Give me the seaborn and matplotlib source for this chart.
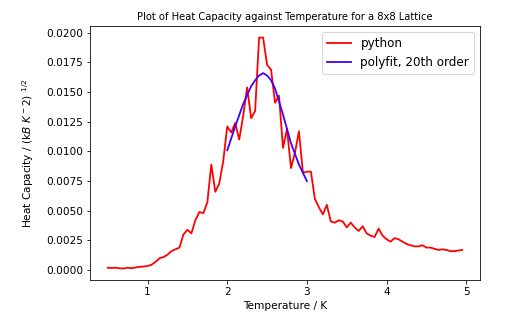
import numpy as np
import pandas as pd
import matplotlib
matplotlib.use('Agg')
import matplotlib.pyplot as plt
import seaborn as sns

# heat capacity from the simulation
temps = [0.50, 0.55, 0.60, 0.65, 0.70, 0.75, 0.80, 0.85, 0.90, 0.95,
         1.00, 1.05, 1.10, 1.15, 1.20, 1.25, 1.30, 1.35, 1.40, 1.45,
         1.50, 1.55, 1.60, 1.65, 1.70, 1.75, 1.80, 1.85, 1.90, 1.95,
         2.00, 2.05, 2.10, 2.15, 2.20, 2.25, 2.30, 2.35, 2.40, 2.45,
         2.50, 2.55, 2.60, 2.65, 2.70, 2.75, 2.80, 2.85, 2.90, 2.95,
         3.00, 3.05, 3.10, 3.15, 3.20, 3.25, 3.30, 3.35, 3.40, 3.45,
         3.50, 3.55, 3.60, 3.65, 3.70, 3.75, 3.80, 3.85, 3.90, 3.95,
         4.00, 4.05, 4.10, 4.15, 4.20, 4.25, 4.30, 4.35, 4.40, 4.45,
         4.50, 4.55, 4.60, 4.65, 4.70, 4.75, 4.80, 4.85, 4.90, 4.95]
heat_cap = [0.00020, 0.00018, 0.00020, 0.00015, 0.00014, 0.00020, 0.00016, 0.00022, 0.00028, 0.00030,
            0.00035, 0.00045, 0.00070, 0.00100, 0.00110, 0.00130, 0.00160, 0.00175, 0.00190, 0.00300,
            0.00340, 0.00310, 0.00420, 0.00490, 0.00480, 0.00570, 0.00890, 0.00660, 0.00730, 0.00920,
            0.01210, 0.01160, 0.01240, 0.01100, 0.01300, 0.01540, 0.01280, 0.01340, 0.01960, 0.01960,
            0.01730, 0.01690, 0.01410, 0.01470, 0.01030, 0.01190, 0.00860, 0.00990, 0.01170, 0.00820,
            0.00830, 0.00830, 0.00600, 0.00530, 0.00470, 0.00550, 0.00410, 0.00400, 0.00420, 0.00410,
            0.00360, 0.00400, 0.00360, 0.00330, 0.00370, 0.00310, 0.00290, 0.00280, 0.00350, 0.00290,
            0.00260, 0.00240, 0.00270, 0.00260, 0.00240, 0.00220, 0.00210, 0.00200, 0.00200, 0.00210,
            0.00190, 0.00190, 0.00180, 0.00170, 0.00175, 0.00170, 0.00160, 0.00160, 0.00165, 0.00170]

# polyfit curve
fit_temps = [2.0, 2.1, 2.2, 2.3, 2.35, 2.4, 2.45, 2.5, 2.55, 2.6, 2.7, 2.8, 2.9, 3.0]
fit_cap = [0.0101, 0.0121, 0.0140, 0.0155, 0.0160, 0.0164, 0.0166, 0.0164, 0.0160, 0.0153,
           0.0131, 0.0107, 0.0089, 0.0075]

data = pd.DataFrame({'T': temps, 'C': heat_cap})
fit = pd.DataFrame({'T': fit_temps, 'C': fit_cap})

fig = plt.figure(figsize=(515/72, 327/72), dpi=72)
ax = fig.add_axes([90/515, 47/327, 390/515, 254/327])

sns.lineplot(x='T', y='C', data=data, color='red', label='python', sort=False, ax=ax, linewidth=1.8)
sns.lineplot(x='T', y='C', data=fit, color='#3f00ff', label='polyfit, 20th order', sort=False, ax=ax, linewidth=1.8)

ax.set_yticks(np.arange(0, 0.0201, 0.0025))
ax.yaxis.set_major_formatter(matplotlib.ticker.FormatStrFormatter('%.4f'))
ax.tick_params(labelsize=10.5)
ax.set_xlabel('Temperature / K', fontsize=10.5)
ax.set_ylabel(r'Heat Capacity / (k$B\ K^-2$) $^{1/2}$', fontsize=10.5, labelpad=10)
ax.set_title('Plot of Heat Capacity against Temperature for a 8x8 Lattice', fontsize=10)
ax.legend(loc='upper right', fontsize=12)

fig.savefig('out.png', dpi=72)
